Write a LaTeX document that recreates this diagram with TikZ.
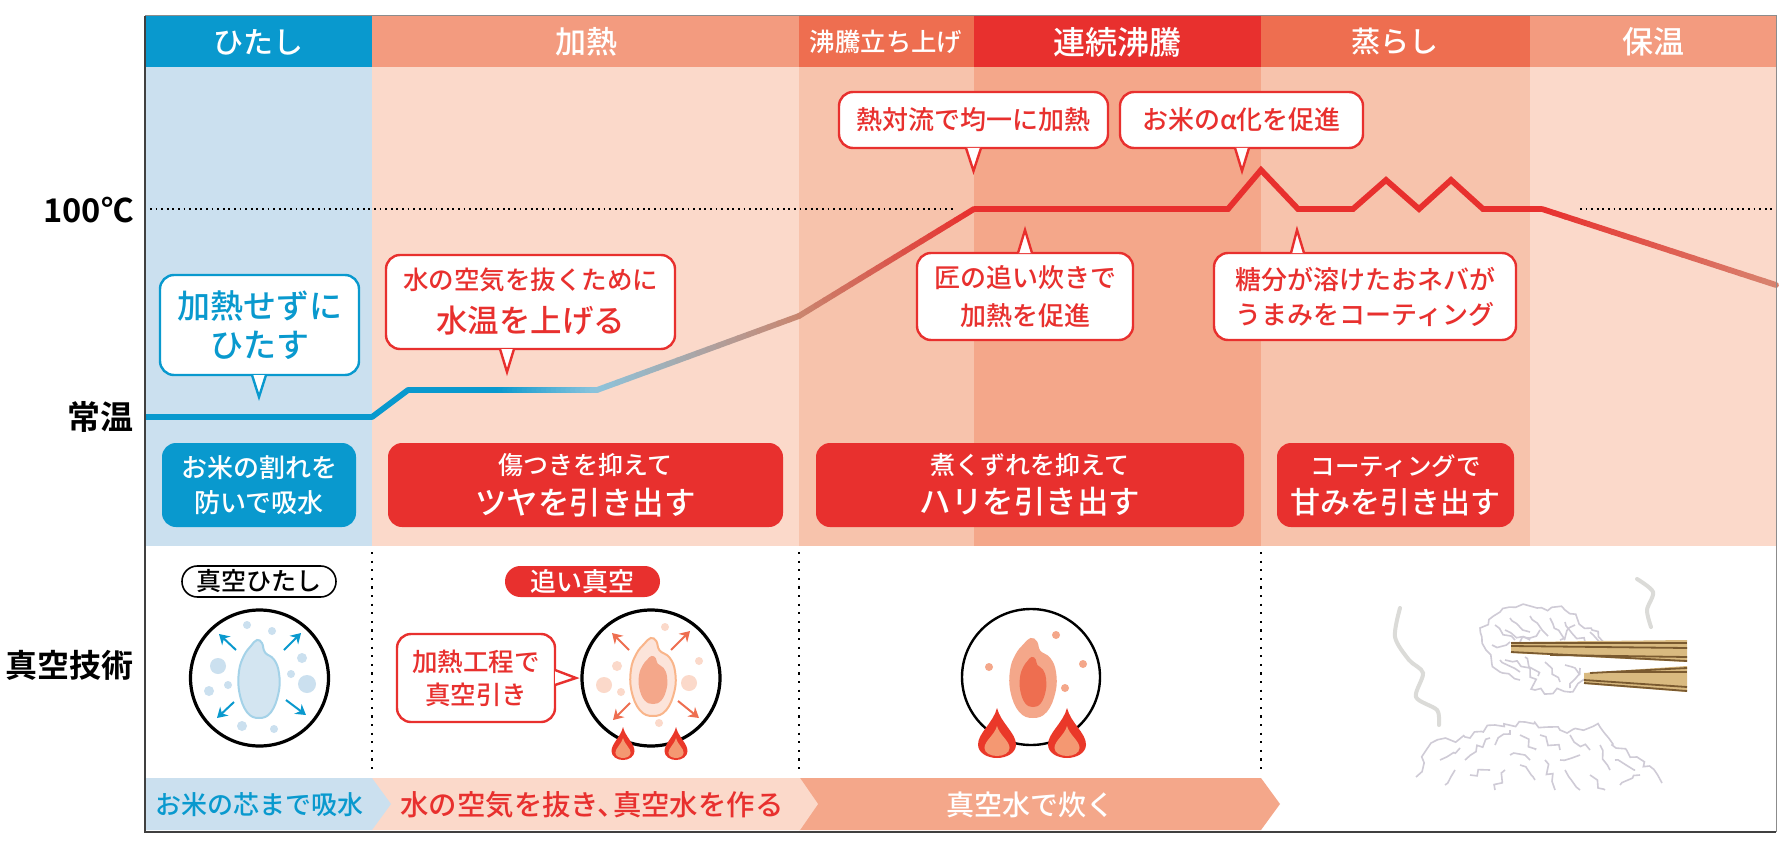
\documentclass[tikz,border=0pt]{standalone}
\usepackage{fontspec}
\setmainfont[BoldFont={Noto Sans CJK JP Bold}]{Noto Sans CJK JP}
\newfontfamily\jpm{Noto Sans CJK JP Medium}
\usetikzlibrary{decorations.pathmorphing,arrows.meta}
\definecolor{cblue}{HTML}{0999CE}
\definecolor{cpaleblue}{HTML}{CBE0EF}
\definecolor{cred}{HTML}{E8302E}
\definecolor{hsalmon}{HTML}{F39B7F}
\definecolor{hmid}{HTML}{EE6E50}
\definecolor{bl1}{HTML}{FBD9CA}
\definecolor{bl2}{HTML}{F7C3AC}
\definecolor{bl3}{HTML}{F4A78A}
\definecolor{ricegrey}{HTML}{CFCBD6}
\definecolor{steamgrey}{HTML}{DBDBD8}
\definecolor{lineblue}{HTML}{8CC4DC}
\definecolor{linebrown}{HTML}{C98670}
\definecolor{linesalmon}{HTML}{D8836F}
\definecolor{sticktan}{HTML}{D9BA80}
\definecolor{stickbrown}{HTML}{7A5A30}
\newcommand{\fz}[2]{\fontsize{#1pt}{#2pt}\selectfont}
\tikzset{
  x=0.5pt,y=-0.5pt,
  head/.style={text=white,inner sep=0pt,font=\jpm},
  lab/.style={text=black,inner sep=0pt,anchor=east,font=\bfseries},
  bubble/.style={draw=cred,line width=1.2pt,fill=white,rounded corners=7pt,text=cred,inner sep=0pt,align=center,font=\jpm},
  bluebubble/.style={bubble,draw=cblue,text=cblue},
  redbox/.style={fill=cred,rounded corners=7pt,text=white,inner sep=0pt,align=center,font=\jpm},
  bluebox/.style={redbox,fill=cblue},
  dotline/.style={black,line width=0.9pt,dash pattern=on 0.9pt off 1.9pt},
  vdot/.style={black,line width=1.1pt,dash pattern=on 1.1pt off 3.2pt},
  ring/.style={draw=black,line width=1.6pt,fill=white},
  arrowtxt/.style={inner sep=0pt,font=\jpm},
  ricey/.style={draw=ricegrey,line width=0.8pt,decorate,decoration={random steps,segment length=3pt,amplitude=1.8pt}},
  steam/.style={draw=steamgrey,line width=2pt,line cap=round},
}
\newcommand{\boxnode}[7]{%
 \pgfmathsetmacro{\cxx}{(#3+#5)/2}\pgfmathsetmacro{\cyy}{(#4+#6)/2}%
 \pgfmathsetmacro{\wdd}{(#5-#3)/2}\pgfmathsetmacro{\htt}{(#6-#4)/2}%
 \node[#1,minimum width=\wdd pt,minimum height=\htt pt] (#2) at (\cxx,\cyy) {#7};}
\newcommand{\tail}[7]{%
 \fill[white] (#2,#3) -- (#6,#7) -- (#4,#5) -- cycle;
 \draw[#1,line width=1.2pt,line join=miter] (#2,#3) -- (#6,#7) -- (#4,#5);}
\newcommand{\gseg}[6]{%
 \foreach \i in {0,...,19}{%
  \pgfmathsetmacro{\ta}{\i/20}\pgfmathsetmacro{\tb}{(\i+1)/20}\pgfmathsetmacro{\pc}{100-100*(\i+.5)/20}%
  \draw[line width=2.9pt,line cap=round,color=#5!\pc!#6] ({#1+\ta*(#3-#1)},{#2+\ta*(#4-#2)}) -- ({#1+\tb*(#3-#1)},{#2+\tb*(#4-#2)});
 }}
\newcommand{\ricepath}{plot[smooth cycle,tension=.7] coordinates {(-0.1,-1)(0.15,-0.92)(0.3,-0.68)(0.75,-0.5)(1,-0.15)(0.98,0.35)(0.6,0.85)(0,1)(-0.6,0.85)(-0.98,0.35)(-1,-0.2)(-0.75,-0.6)(-0.4,-0.85)}}
\newcommand{\rice}[6]{\begin{scope}[shift={(#1,#2)},xscale=#3,yscale=#4]\path[fill=#5,draw=#6,line width=1pt] \ricepath;\end{scope}}
\newcommand{\flamepath}{(0,-1) .. controls (0.1,-0.7) and (0.5,-0.5) .. (0.5,-0.27) .. controls (0.5,-0.1) and (0.25,0) .. (0,0) .. controls (-0.25,0) and (-0.5,-0.1) .. (-0.5,-0.27) .. controls (-0.5,-0.5) and (-0.1,-0.7) .. (0,-1) -- cycle}
\newcommand{\flame}[4]{%
 \begin{scope}[shift={(#1,#2)},xscale=#3,yscale=#4]\fill[fill=cred!90!orange] \flamepath;\end{scope}
 \begin{scope}[shift={(#1,#2-2)},xscale=#3*0.66,yscale=#4*0.6]\fill[fill=hsalmon!90!orange] \flamepath;\end{scope}}
\begin{document}
\begin{tikzpicture}
\useasboundingbox (0,0) rectangle (1781,845);
\fill[white] (0,0) rectangle (1781,845);
\fill[cpaleblue] (145,67) rectangle (372,546);
\fill[bl1] (372,67) rectangle (799,546);
\fill[bl2] (799,67) rectangle (974,546);
\fill[bl3] (974,67) rectangle (1261,546);
\fill[bl2] (1261,67) rectangle (1530,546);
\fill[bl1] (1530,67) rectangle (1776,546);
\fill[cblue] (145,16) rectangle (372,67);
\fill[hsalmon] (372,16) rectangle (799,67);
\fill[hmid] (799,16) rectangle (974,67);
\fill[cred] (974,16) rectangle (1261,67);
\fill[hmid] (1261,16) rectangle (1530,67);
\fill[hsalmon] (1530,16) rectangle (1776,67);
\node[head] (h1) at (258,42) {\fz{15}{18}ひたし};
\node[head] (h2) at (586,42) {\fz{15.5}{18}加熱};
\node[head] (h3) at (886,42) {\fz{12.7}{18}沸騰立ち上げ};
\node[head] (h4) at (1117,42) {\fz{16}{18}連続沸騰};
\node[head] (h5) at (1395,42) {\fz{14.5}{18}蒸らし};
\node[head] (h6) at (1653,42) {\fz{15.5}{18}保温};
\node[lab] (l1) at (134,210) {\fz{16.3}{18}100℃};
\node[lab] (l2) at (134,417) {\fz{16.5}{18}常温};
\node[lab] (l3) at (134,665) {\fz{16}{18}真空技術};
\draw[dotline] (150,209) -- (953,209);
\draw[dotline] (1580,209) -- (1776,209);
\draw[cblue,line width=2.9pt,line join=round] (145,417) -- (372,417) -- (408,390) -- (500,390);
\gseg{500}{390}{597}{390}{cblue}{lineblue}
\gseg{597}{390}{799}{316}{lineblue}{linebrown}
\gseg{799}{316}{974}{209}{linebrown}{cred}
\draw[cred,line width=2.9pt,line join=miter] (974,209) -- (1228,209) -- (1261,170) -- (1298,209) -- (1353,209) -- (1386,180) -- (1419,209) -- (1451,180) -- (1483,209) -- (1542,209);
\gseg{1542}{209}{1776}{285}{cred}{linesalmon}
\boxnode{bluebubble}{b1}{160}{275}{359}{375}{\fz{16.5}{19}加熱せずに\\[3.8pt]\fz{16.5}{19}ひたす}
\tail{cblue}{252}{375}{266}{375}{259}{397}
\boxnode{bubble}{b2}{386}{255}{675}{349}{\fz{12.75}{17.5}水の空気を抜くために\\[6pt]\fz{15.75}{17.5}水温を上げる}
\tail{cred}{500}{349}{514}{349}{507}{372}
\boxnode{bubble}{b3}{839}{92}{1108}{148}{\fz{13}{16}熱対流で均一に加熱}
\tail{cred}{966}{148}{981}{148}{973.5}{171}
\boxnode{bubble}{b4}{1120}{92}{1363}{148}{\fz{13}{16}お米のα化を促進}
\tail{cred}{1235}{148}{1249}{148}{1242}{171}
\boxnode{bubble}{b5}{917}{253}{1133}{340}{\fz{13}{16.5}匠の追い炊きで\\[6pt]\fz{13}{16.5}加熱を促進}
\tail{cred}{1018}{253}{1032}{253}{1025}{230}
\boxnode{bubble}{b6}{1214}{253}{1516}{340}{\fz{13}{16.5}糖分が溶けたおネバが\\[4.3pt]\fz{13}{16.5}うまみをコーティング}
\tail{cred}{1291}{253}{1304}{253}{1297}{230}
\boxnode{bluebox}{f1}{162}{443}{356}{527}{\fz{13}{16.5}お米の割れを\\[4.7pt]\fz{13}{16.5}防いで吸水}
\boxnode{redbox}{f2}{388}{443}{783}{527}{\fz{12.5}{18}傷つきを抑えて\\[4.5pt]\fz{15.75}{18}ツヤを引き出す}
\boxnode{redbox}{f3}{816}{443}{1244}{527}{\fz{12.5}{18}煮くずれを抑えて\\[4.5pt]\fz{15.75}{18}ハリを引き出す}
\boxnode{redbox}{f4}{1277}{443}{1514}{527}{\fz{12.25}{18}コーティングで\\[4.3pt]\fz{15}{18}甘みを引き出す}
\draw[vdot] (372,552) -- (372,773);
\draw[vdot] (799,552) -- (799,773);
\draw[vdot] (1261,552) -- (1261,773);
\boxnode{draw=black,line width=0.8pt,fill=white,rounded corners=7.7pt,inner sep=0pt,font=\jpm}{p1}{182}{566}{336}{597}{\fz{12.5}{15}真空ひたし}
\boxnode{fill=cred,rounded corners=7.7pt,text=white,inner sep=0pt,font=\jpm}{p2}{505}{566}{660}{597}{\fz{13}{15}追い真空}
% circle 1
\draw[ring] (259.5,678) ellipse (69 and 68);
\foreach \x/\y/\r in {247/625/4,272/631/4,218/666/8,302/658/5,291/674/4,307/684/9,228/685/4,209/691/5,242/726/5,274/729/4}
  \fill[cpaleblue] (\x,\y) circle (\r);
\rice{259}{679}{20}{39}{cpaleblue!85!white}{cpaleblue!80!cblue}
\foreach \a/\b/\c/\d in {236/650/219/634,284/650/301/633,234/702/217/718,286/700/306/715}
  \draw[cblue,line width=1pt,-{Stealth[length=5pt,width=6pt]}] (\a,\b) -- (\c,\d);
% circle 2
\draw[ring] (651,678) ellipse (69 and 68);
\foreach \x/\y/\r in {665/627/4,617/666/5,699/661/4,604/685/8,621/692/4,689/683/8,659/723/4}
  \fill[bl1] (\x,\y) circle (\r);
\rice{653}{677}{22}{39}{bl1!70!white}{bl2!80!orange}
\rice{653}{680}{13}{23}{bl3}{bl3}
\foreach \a/\b/\c/\d in {629/650/612/633,671/650/690/631,630/703/613/720,678/701/699/718}
  \draw[hmid,line width=1pt,-{Stealth[length=5pt,width=6pt]}] (\a,\b) -- (\c,\d);
\flame{623}{760}{23}{33}
\flame{676}{760}{23}{33}
\boxnode{bubble}{b7}{397}{634}{555}{722}{\fz{12.75}{16}加熱工程で\\[4.5pt]\fz{12.75}{16}真空引き}
\tail{cred}{555}{670}{555}{685}{576}{678}
% circle 3
\draw[ring,line width=1.2pt] (1031,677) ellipse (69 and 68);
\foreach \x/\y/\r in {1056/635/4,989/667/4,1083/664/4,1065/688/4}
  \fill[bl3] (\x,\y) circle (\r);
\rice{1033}{678}{22}{39}{bl3}{bl3}
\rice{1033}{682}{12}{24}{hmid}{hmid}
\flame{997}{758}{38}{50}
\flame{1067}{758}{38}{50}
% steam
\draw[steam] plot[smooth] coordinates {(1400,608)(1395,637)(1409,660)(1423,673)(1416,697)(1437,710)(1439,725)};
\draw[steam] plot[smooth] coordinates {(1637,579)(1653,592)(1647,610)(1651,627)};
% upper rice
\pgfmathsetseed{7}
\draw[ricey] (1520,680) -- (1500,672) -- (1486,650) -- (1480,628) -- (1500,612) -- (1530,606) -- (1565,610) -- (1592,630) -- (1606,645);
\draw[ricey] (1505,660) -- (1530,668) -- (1535,690) -- (1570,692) -- (1590,680);
\foreach \a/\b/\c/\d in {1495/625/1515/640,1510/618/1530/632,1530/616/1548/636,1550/618/1565/640,1565/622/1585/642,1540/630/1520/642,1575/625/1560/640,1492/645/1510/642,1500/660/1520/672,1525/657/1538/676,1545/662/1560/682,1565/665/1580/675,1580/668/1570/688,1545/645/1560/655,1530/640/1505/630,1590/632/1600/645}
  \draw[ricey] (\a,\b) -- (\c,\d);
% chopsticks
\fill[sticktan] (1511,642) -- (1687,640) -- (1687,662) -- (1511,653) -- cycle;
\fill[sticktan] (1584,673) -- (1687,666) -- (1687,692) -- (1584,684) -- cycle;
\foreach \a/\b/\c/\d in {1511/643/1687/643,1511/646/1687/648,1511/652/1687/661,1550/655/1687/657,1590/673/1687/668,1584/683/1687/691,1584/680/1687/687,1610/672/1687/672}
  \draw[stickbrown,line width=0.9pt] (\a,\b) -- (\c,\d);
% lower rice
\draw[ricey] (1416,777) -- (1431,743) -- (1470,738) -- (1495,725) -- (1525,722) -- (1560,730) -- (1600,727) -- (1612,745) -- (1637,757) -- (1662,783);
\foreach \a/\b/\c/\d in {1440/760/1460/748,1465/760/1490/738,1495/745/1510/730,1520/735/1535/750,1540/735/1560/750,1570/735/1590/750,1600/745/1610/770,1615/760/1635/770,1445/785/1455/770,1470/775/1490/770,1495/790/1505/770,1520/765/1535/780,1545/760/1555/790,1565/770/1580/790,1590/775/1605/790,1620/785/1640/775,1510/755/1530/760,1560/760/1580/755}
  \draw[ricey] (\a,\b) -- (\c,\d);
% bottom arrows
\fill[bl3] (799,778) -- (1261,778) -- (1280,804) -- (1261,830) -- (799,830) -- cycle;
\fill[bl1] (372,778) -- (800,778) -- (818,804) -- (800,830) -- (372,830) -- cycle;
\fill[cpaleblue] (145,778) -- (372,778) -- (391,804) -- (372,830) -- (145,830) -- cycle;
\node[arrowtxt,text=cblue] (a1) at (259.5,805) {\fz{13}{15}お米の芯まで吸水};
\node[arrowtxt,text=cred] (a2) at (592,805) {\fz{14.2}{15}水の空気を抜き、\kern-.45em 真空水を作る};
\node[arrowtxt,text=white] (a3) at (1030,805) {\fz{14}{15}真空水で炊く};
% frame
\draw[black!45,line width=0.5pt] (145,16) -- (1776,16) -- (1776,832);
\draw[black!75,line width=0.7pt] (145,16) -- (145,832) -- (1776,832);
\end{tikzpicture}
\end{document}
